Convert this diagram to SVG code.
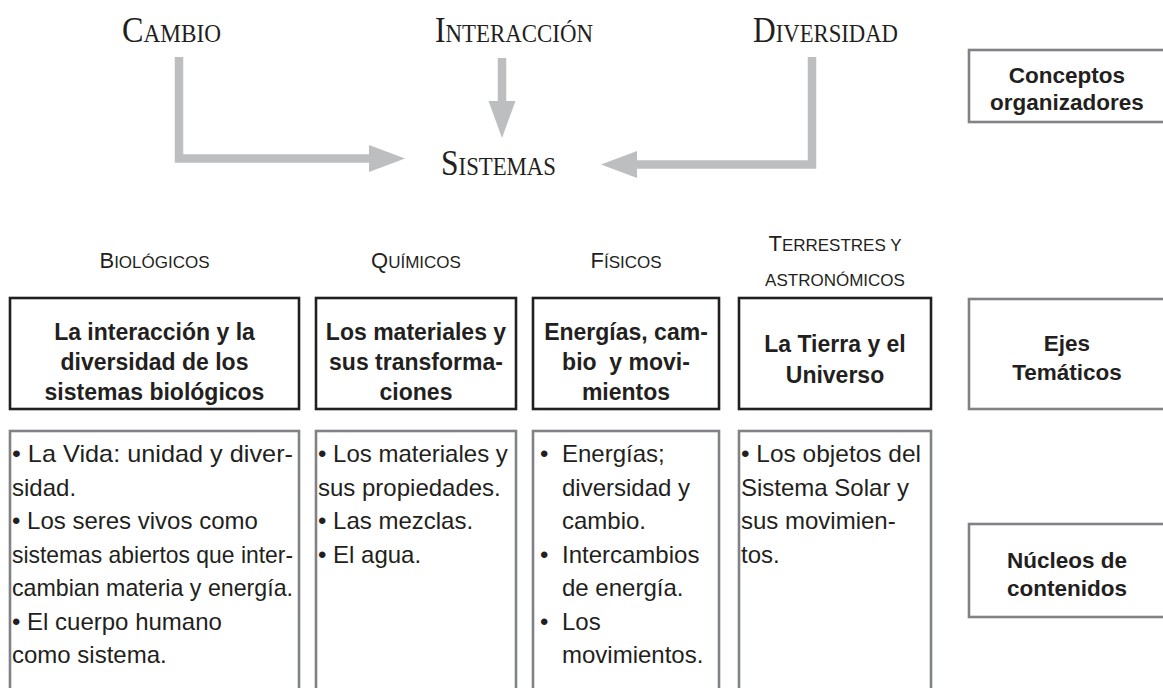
<svg xmlns="http://www.w3.org/2000/svg" width="1163" height="688" viewBox="0 0 1163 688">
<style>
.bg{fill:#ffffff}
.title{font-family:"Liberation Serif",serif;fill:#231f20}
.big{font-size:36px}
.sm{font-size:26px}
.hdr{font-family:"Liberation Sans",sans-serif;fill:#231f20;text-anchor:middle}
.hb{font-size:22px}
.hs{font-size:17px}
.eje{fill:none;stroke:#231f20;stroke-width:2.6}
.nuc{fill:none;stroke:#808285;stroke-width:2.6}
.lbl{fill:none;stroke:#808285;stroke-width:2.6}
.et{font-family:"Liberation Sans",sans-serif;font-weight:bold;font-size:23px;fill:#231f20;text-anchor:middle}
.lt{font-family:"Liberation Sans",sans-serif;font-weight:bold;font-size:22.5px;fill:#231f20;text-anchor:middle}
.nt{font-family:"Liberation Sans",sans-serif;font-size:24px;fill:#231f20}
.arr{fill:none;stroke:#bcbec0;stroke-width:8.5;stroke-linejoin:miter}
.head{fill:#bcbec0}
</style>
<rect class="bg" x="0" y="0" width="1163" height="688"/>

<g id="connectors">
  <polyline class="arr" points="179,57 179,158.5 370,158.5"/>
  <polygon class="head" points="369,145 405,158.5 369,172"/>
  <polyline class="arr" points="502,58 502,102"/>
  <polygon class="head" points="488.5,101 515.5,101 502,138"/>
  <polyline class="arr" points="812,57 812,164.5 636,164.5"/>
  <polygon class="head" points="637,151 601,164.5 637,178"/>
</g>

<g id="cambio"><text class="title" x="122" y="42" textLength="99" lengthAdjust="spacingAndGlyphs"><tspan class="big">C</tspan><tspan class="sm">AMBIO</tspan></text></g>
<g id="interaccion"><text class="title" x="435" y="42" textLength="158" lengthAdjust="spacingAndGlyphs"><tspan class="big">I</tspan><tspan class="sm">NTERACCIÓN</tspan></text></g>
<g id="diversidad"><text class="title" x="753" y="42" textLength="145" lengthAdjust="spacingAndGlyphs"><tspan class="big">D</tspan><tspan class="sm">IVERSIDAD</tspan></text></g>
<g id="sistemas"><text class="title" x="441" y="175" textLength="115" lengthAdjust="spacingAndGlyphs"><tspan class="big">S</tspan><tspan class="sm">ISTEMAS</tspan></text></g>

<g id="conceptos-organizadores">
  <rect class="lbl" x="969" y="50" width="200" height="72"/>
  <text class="lt" x="1067" y="83">Conceptos</text>
  <text class="lt" x="1067" y="110">organizadores</text>
</g>

<g id="hdr-biologicos"><text class="hdr" x="154.5" y="268"><tspan class="hb">B</tspan><tspan class="hs">IOLÓGICOS</tspan></text></g>
<g id="hdr-quimicos"><text class="hdr" x="416" y="268"><tspan class="hb">Q</tspan><tspan class="hs">UÍMICOS</tspan></text></g>
<g id="hdr-fisicos"><text class="hdr" x="626" y="268"><tspan class="hb">F</tspan><tspan class="hs">ÍSICOS</tspan></text></g>
<g id="hdr-terrestres">
  <text class="hdr" x="835" y="251"><tspan class="hb">T</tspan><tspan class="hs">ERRESTRES Y</tspan></text>
  <text class="hdr hs" x="835" y="286">ASTRONÓMICOS</text>
</g>

<g id="eje-biologicos">
  <rect class="eje" x="10" y="298" width="289" height="111"/>
  <text class="et" x="154.5" y="340">La interacción y la</text>
  <text class="et" x="154.5" y="370">diversidad de los</text>
  <text class="et" x="154.5" y="400">sistemas biológicos</text>
</g>
<g id="eje-quimicos">
  <rect class="eje" x="316" y="298" width="200" height="111"/>
  <text class="et" x="416" y="340">Los materiales y</text>
  <text class="et" x="416" y="370">sus transforma-</text>
  <text class="et" x="416" y="400">ciones</text>
</g>
<g id="eje-fisicos">
  <rect class="eje" x="533" y="298" width="186" height="111"/>
  <text class="et" x="626" y="340">Energías, cam-</text>
  <text class="et" x="626" y="370" xml:space="preserve">bio  y movi-</text>
  <text class="et" x="626" y="400">mientos</text>
</g>
<g id="eje-terrestres">
  <rect class="eje" x="739" y="298" width="192" height="111"/>
  <text class="et" x="835" y="352">La Tierra y el</text>
  <text class="et" x="835" y="383">Universo</text>
</g>

<g id="ejes-tematicos">
  <rect class="lbl" x="969" y="299" width="200" height="110"/>
  <text class="lt" x="1067" y="351">Ejes</text>
  <text class="lt" x="1067" y="380">Temáticos</text>
</g>

<g id="nucleo-biologicos">
  <rect class="nuc" x="10" y="431" width="289" height="280"/>
  <text class="nt" x="12" y="462" textLength="281" lengthAdjust="spacingAndGlyphs">• La Vida: unidad y diver-</text>
  <text class="nt" x="12" y="495.5">sidad.</text>
  <text class="nt" x="12" y="529">• Los seres vivos como</text>
  <text class="nt" x="12" y="562.5" textLength="281" lengthAdjust="spacingAndGlyphs">sistemas abiertos que inter-</text>
  <text class="nt" x="12" y="596" textLength="281" lengthAdjust="spacingAndGlyphs">cambian materia y energía.</text>
  <text class="nt" x="12" y="629.5">• El cuerpo humano</text>
  <text class="nt" x="12" y="663">como sistema.</text>
</g>
<g id="nucleo-quimicos">
  <rect class="nuc" x="316" y="431" width="200" height="280"/>
  <text class="nt" x="318" y="462">• Los materiales y</text>
  <text class="nt" x="318" y="495.5">sus propiedades.</text>
  <text class="nt" x="318" y="529">• Las mezclas.</text>
  <text class="nt" x="318" y="562.5">• El agua.</text>
</g>
<g id="nucleo-fisicos">
  <rect class="nuc" x="533" y="431" width="186" height="280"/>
  <text class="nt" x="540" y="462">•</text><text class="nt" x="562" y="462">Energías;</text>
  <text class="nt" x="562" y="495.5">diversidad y</text>
  <text class="nt" x="562" y="529">cambio.</text>
  <text class="nt" x="540" y="562.5">•</text><text class="nt" x="562" y="562.5">Intercambios</text>
  <text class="nt" x="562" y="596">de energía.</text>
  <text class="nt" x="540" y="629.5">•</text><text class="nt" x="562" y="629.5">Los</text>
  <text class="nt" x="562" y="663">movimientos.</text>
</g>
<g id="nucleo-terrestres">
  <rect class="nuc" x="739" y="431" width="192" height="280"/>
  <text class="nt" x="741" y="462" textLength="180" lengthAdjust="spacingAndGlyphs">• Los objetos del</text>
  <text class="nt" x="741" y="495.5">Sistema Solar y</text>
  <text class="nt" x="741" y="529">sus movimien-</text>
  <text class="nt" x="741" y="562.5">tos.</text>
</g>

<g id="nucleos-contenidos">
  <rect class="lbl" x="969" y="524" width="200" height="93"/>
  <text class="lt" x="1067" y="568">Núcleos de</text>
  <text class="lt" x="1067" y="596">contenidos</text>
</g>
</svg>
